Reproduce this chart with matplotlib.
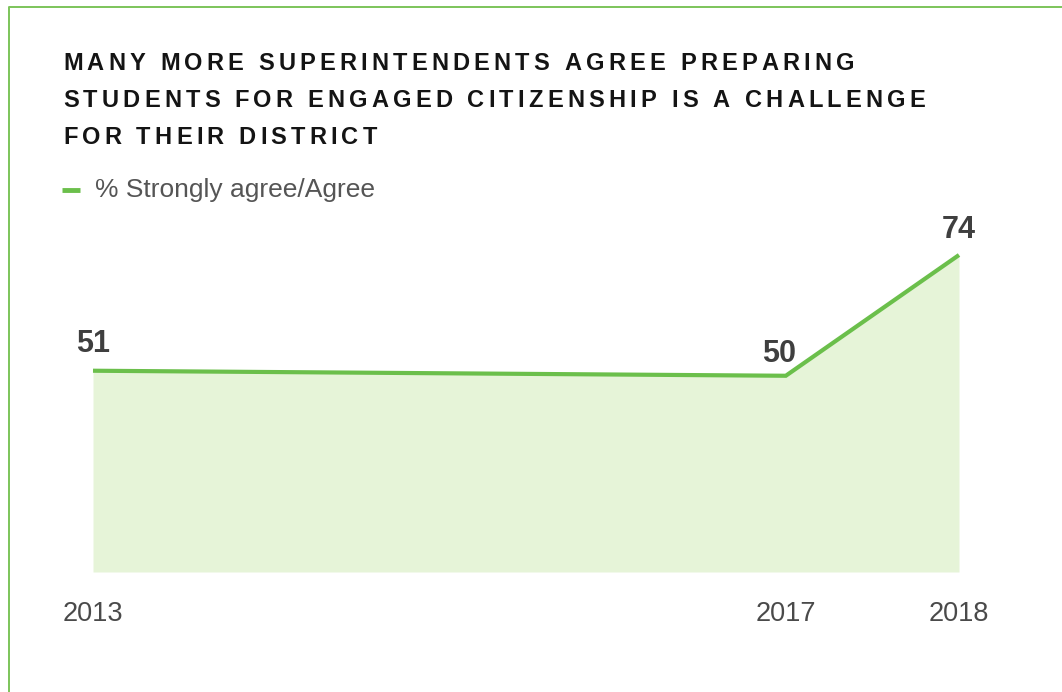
import matplotlib
matplotlib.use("Agg")
import matplotlib.pyplot as plt
from matplotlib.lines import Line2D
from matplotlib.font_manager import FontProperties, findfont, get_font

# Survey values
years = [2013, 2017, 2018]
agree_pct = [51, 50, 74]
year_labels = ["2013", "2017", "2018"]
series_name = "% Strongly agree/Agree"
title_lines = [
    "MANY MORE SUPERINTENDENTS AGREE PREPARING",
    "STUDENTS FOR ENGAGED CITIZENSHIP IS A CHALLENGE",
    "FOR THEIR DISTRICT",
]

W, H = 1062, 692
GREEN = "#6bbf4b"
FILL = "#e6f4d8"
BORDER = "#7cc45a"

fig = plt.figure(figsize=(W / 100, H / 100), dpi=100)
fig.patch.set_facecolor("white")


def px(x, y):
    # pixel coords (origin top-left) -> figure fraction
    return x / W, 1 - y / H


def advances(text, fp):
    # glyph advance widths in pixels
    font = get_font(findfont(fp))
    font.set_size(fp.get_size_in_points(), fig.dpi)
    return [font.load_char(ord(c)).linearHoriAdvance / 65536 for c in text]


def tracked_text(x, y, text, fp, tracking, **kw):
    for ch, adv in zip(text, advances(text, fp)):
        fx, fy = px(x, y)
        fig.text(fx, fy, ch, fontproperties=fp, va="baseline", ha="left", **kw)
        x += adv + tracking


# letter-spaced title
title_fp = FontProperties(family="Liberation Sans", weight="bold", size=17)
widest = title_lines[1]
natural = sum(advances(widest, title_fp))
track = (862 - natural) / (len(widest) - 1)
for i, line in enumerate(title_lines):
    tracked_text(63, 69.5 + i * 37.5, line, title_fp, track, color="#141414")

# legend
fig.add_artist(Line2D([62 / W, 80 / W], [1 - 190 / H] * 2, color=GREEN, lw=3.5,
                      solid_capstyle="butt", transform=fig.transFigure))
fig.text(*px(95, 190), series_name, fontsize=19, color="#555555",
         family="Liberation Sans", va="center", ha="left")

# plot area
ax = fig.add_axes([93 / W, 120 / H, 866 / W, 317 / H])
ymin, ymax = 11, 74
ax.set_xlim(years[0], years[-1])
ax.set_ylim(ymin, ymax)
ax.fill_between(years, agree_pct, ymin, color=FILL, lw=0)
ax.plot(years, agree_pct, color=GREEN, lw=3, solid_joinstyle="miter",
        solid_capstyle="butt", clip_on=False)

label_offsets = [(0, 13.5), (-4.5, 10), (0, 12)]
for x, v, off in zip(years, agree_pct, label_offsets):
    ax.annotate(str(v), (x, v), xytext=off, textcoords="offset points",
                ha="center", va="baseline", fontsize=22, fontweight="bold",
                color="#3f3f3f", family="Liberation Sans")

ax.set_xticks(years)
ax.set_xticklabels(year_labels, fontsize=19.5, color="#4a4a4a", family="Liberation Sans")
ax.tick_params(axis="x", length=0, pad=21)
ax.set_yticks([])
for s in ax.spines.values():
    s.set_visible(False)
ax.patch.set_visible(False)

# frame on left and top
fig.add_artist(Line2D([9 / W, 9 / W, 1], [0, 1 - 7 / H, 1 - 7 / H], color=BORDER,
                      lw=1.4, transform=fig.transFigure))

fig.savefig("out.png", dpi=100)
